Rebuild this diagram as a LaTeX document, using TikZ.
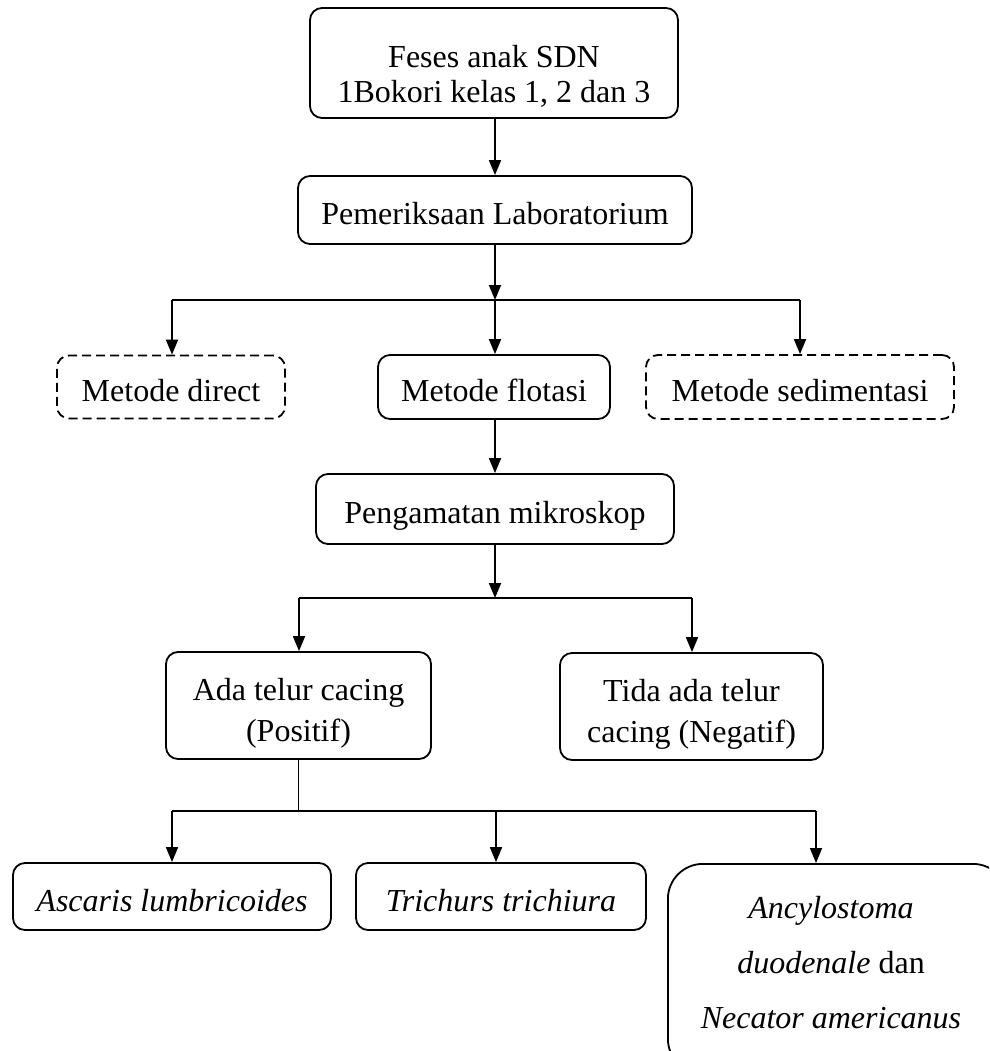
\documentclass[tikz,border=0pt]{standalone}
\usepackage{fontspec}
\setmainfont{Liberation Serif}
\usetikzlibrary{arrows.meta}
\newcommand{\topstrut}[1]{\rule{0pt}{#1}}
\newcommand{\botstrut}{\rule[-8pt]{0pt}{8pt}}
\begin{document}
\begin{tikzpicture}[x=1pt,y=-1pt,
  box/.style={draw, line width=1.8pt, rounded corners=12pt, align=center, inner sep=0pt,
     font=\fontsize{32}{35}\selectfont},
  onebox/.style={box, text height=33pt, text depth=4pt},
  dbox/.style={onebox, dash pattern=on 9pt off 5pt},
  conn/.style={line width=1.8pt},
  arr/.style={conn, -{Triangle[length=15pt,width=12pt]}},
  thin/.style={line width=1pt}]
\useasboundingbox[fill=white] (0,0) rectangle (989,1051);
\clip (0,0) rectangle (989,1051);
\node[box, minimum width=368pt, minimum height=110pt] (feses) at (494,63)
  {\topstrut{53pt}Feses anak SDN\\1Bokori kelas 1, 2 dan 3\botstrut};
\node[onebox, minimum width=394pt, minimum height=68pt] (lab) at (495,210) {Pemeriksaan Laboratorium};
\node[dbox, minimum width=228pt, minimum height=63pt] (direct) at (171,387) {Metode direct};
\node[onebox, minimum width=232pt, minimum height=64pt] (flotasi) at (494,387) {Metode flotasi};
\node[dbox, minimum width=308pt, minimum height=64pt] (sedimen) at (800,387) {Metode sedimentasi};
\node[onebox, minimum width=358pt, minimum height=70pt] (mikro) at (495,509) {Pengamatan mikroskop};
\node[box, minimum width=265pt, minimum height=107pt, font=\fontsize{32}{41}\selectfont] (ada) at (298.5,705.5)
  {\topstrut{38pt}Ada telur cacing\\(Positif)\botstrut};
\node[box, minimum width=263pt, minimum height=107pt, font=\fontsize{32}{41}\selectfont] (tida) at (691.5,706.5)
  {\topstrut{38pt}Tida ada telur\\cacing (Negatif)\botstrut};
\node[onebox, minimum width=318pt, minimum height=67pt] (ascaris) at (172,896.5) {\itshape Ascaris lumbricoides};
\node[onebox, minimum width=290pt, minimum height=67pt] (trich) at (501,896.5) {\itshape Trichurs trichiura};
\node[box, rounded corners=35pt, minimum width=340pt, minimum height=210pt, anchor=north west] (ancy) at (667,863) {};
\node[font=\fontsize{32}{55}\selectfont, align=center, anchor=north] (ancytext) at (831,893)
  {\itshape Ancylostoma\\\itshape duodenale\upshape{} dan\\\itshape Necator americanus};
% junctions
\coordinate (j1) at (495,300);
\coordinate (j1l) at (172,300);
\coordinate (j1r) at (800,300);
\coordinate (j2) at (495,598);
\coordinate (j2l) at (299,598);
\coordinate (j2r) at (692,598);
\coordinate (j3) at (298,811);
\coordinate (j3l) at (172,811);
\coordinate (j3m) at (496,811);
\coordinate (j3r) at (816,811);
% connectors
\draw[arr] (feses.south -| lab.north) -- (lab.north);
\draw[arr] (lab.south) -- (j1);
\draw[conn] (j1l) -- (j1r);
\draw[arr] (j1l) -- (j1l |- direct.north);
\draw[arr] (j1) -- (j1 |- flotasi.north);
\draw[arr] (j1r) -- (j1r |- sedimen.north);
\draw[arr] (flotasi.south -| mikro.north) -- (mikro.north);
\draw[arr] (mikro.south) -- (j2);
\draw[conn] (j2l) -- (j2r);
\draw[arr] (j2l) -- (j2l |- ada.north);
\draw[arr] (j2r) -- (j2r |- tida.north);
\draw[thin] (ada.south -| j3) -- (j3);
\draw[conn] (j3l) -- (j3r);
\draw[arr] (j3l) -- (j3l |- ascaris.north);
\draw[arr] (j3m) -- (j3m |- trich.north);
\draw[arr] (j3r) -- (j3r |- ancy.north);
\end{tikzpicture}
\end{document}
